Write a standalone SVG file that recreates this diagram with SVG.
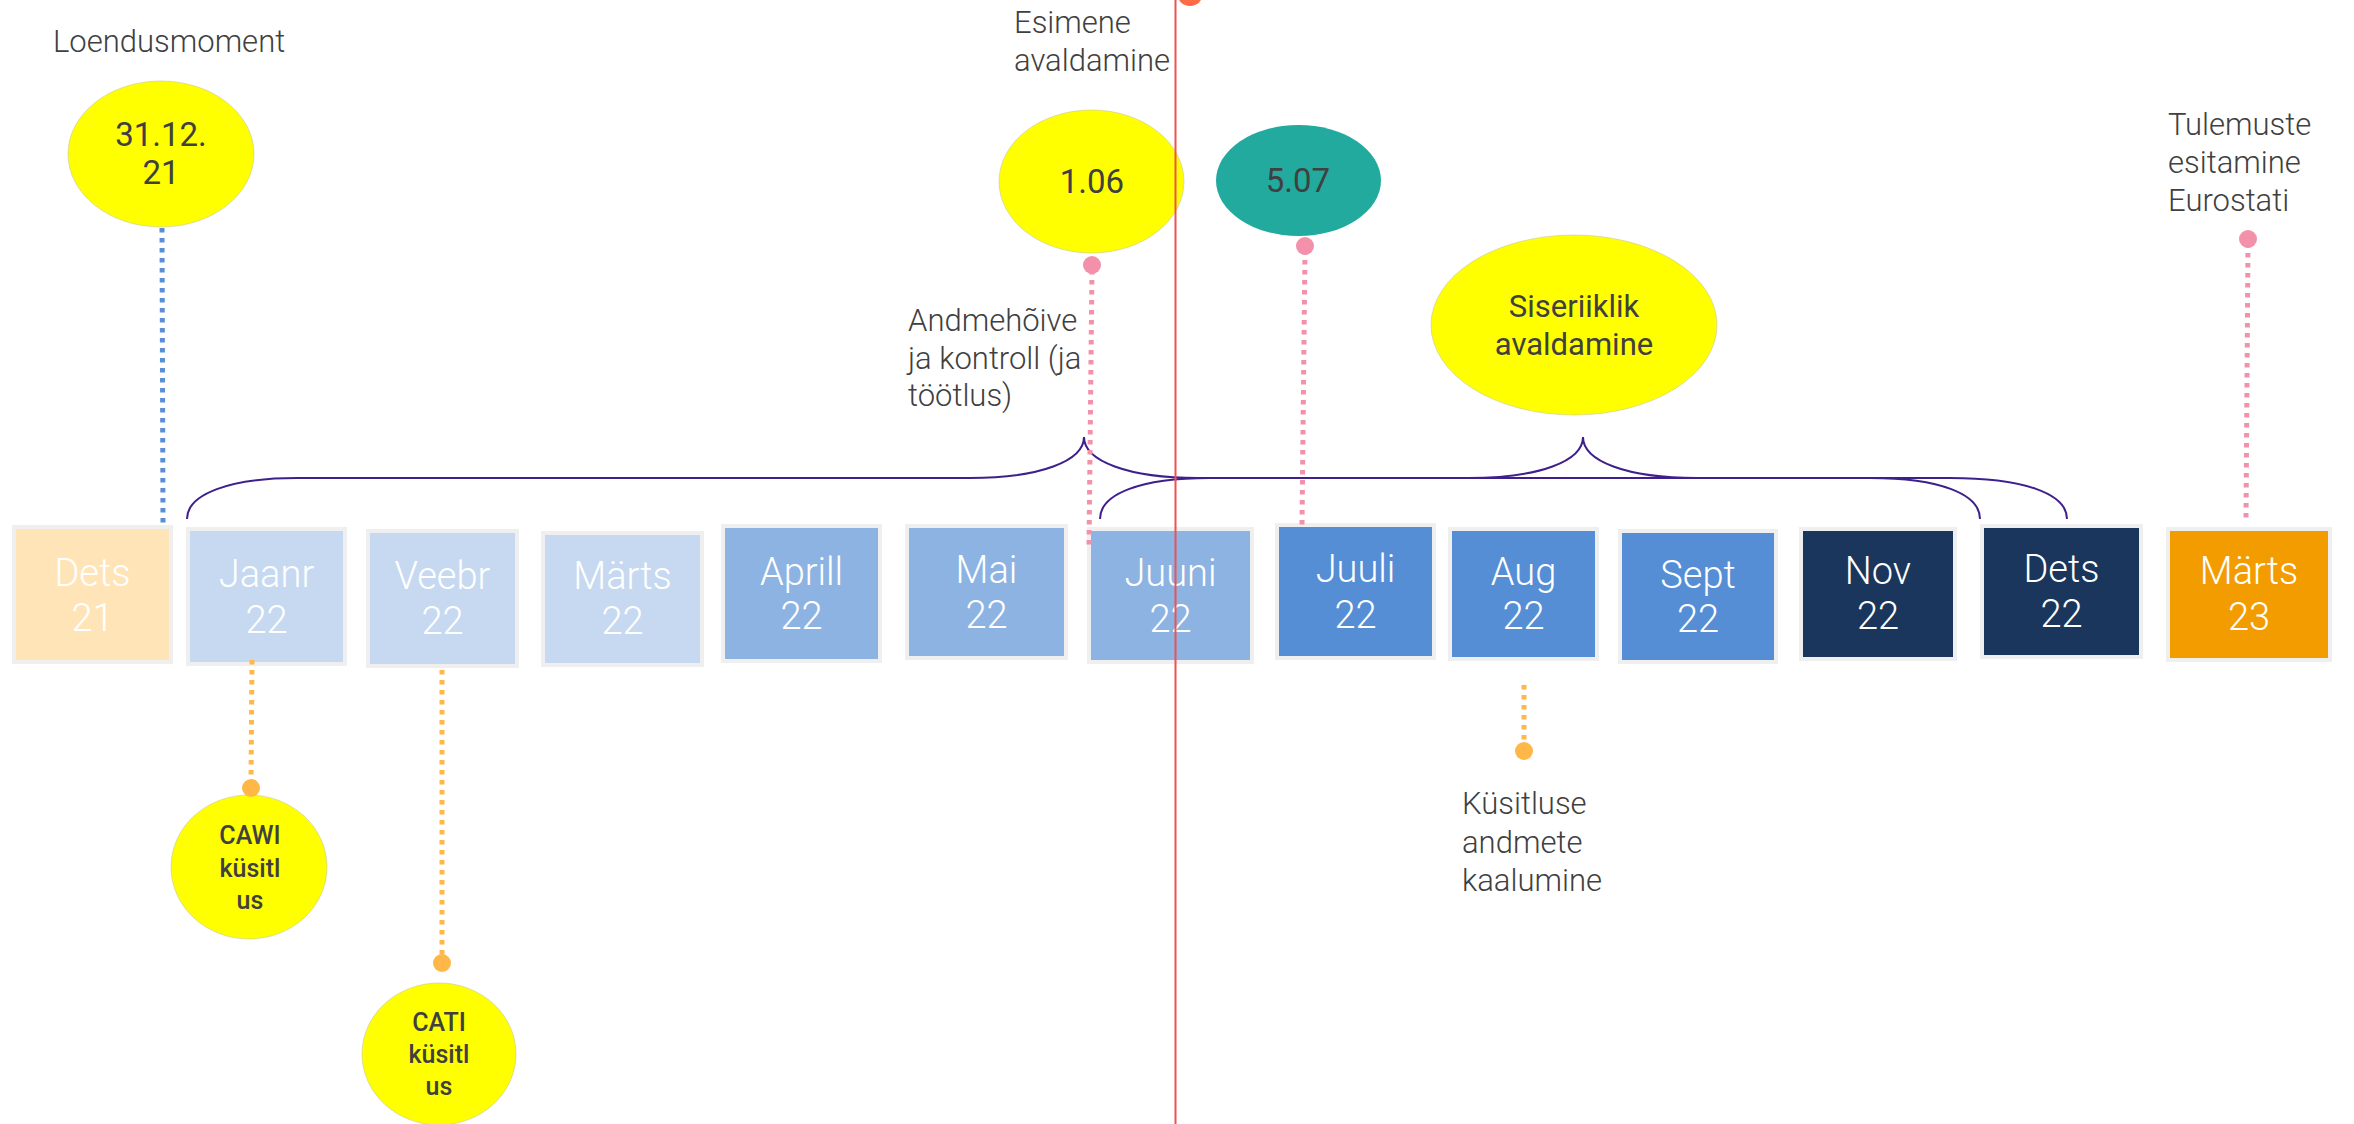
<svg xmlns="http://www.w3.org/2000/svg" width="2354" height="1124" viewBox="0 0 2354 1124">
<style>
.lbl{font-family:Roboto,"Liberation Sans",sans-serif;font-weight:300;font-size:31px;fill:#404040}
.etx{font-family:Roboto,"Liberation Sans",sans-serif;font-size:33px;fill:#404040;text-anchor:middle}
.stx{font-family:Roboto,"Liberation Sans",sans-serif;font-size:25px;font-weight:500;fill:#404040;text-anchor:middle}
.btx{font-family:Roboto,"Liberation Sans",sans-serif;font-weight:300;font-size:38px;fill:#ffffff;text-anchor:middle}
.box{stroke:#EFEFEF;stroke-width:4}
.yel{fill:#FFFF00;stroke:#c8c8a0;stroke-width:1;stroke-opacity:0.6}
.pink{stroke:#F391AA;stroke-width:5;stroke-dasharray:4.5 5.5;fill:none}
.org{stroke:#FFB847;stroke-width:5;stroke-dasharray:4.5 5.5;fill:none}
.blu{stroke:#5B8ED6;stroke-width:5;stroke-dasharray:4.5 5.5;fill:none}
.brace{stroke:#3F1F8C;stroke-width:2;fill:none}
</style>
<rect width="2354" height="1124" fill="#ffffff"/>

<g id="box-dets21"><rect class="box" x="14" y="527" width="157" height="135" fill="#FFE4B8"/><text class="btx" x="92.5" y="586">Dets</text><text class="btx" x="92.5" y="631">21</text></g>
<g id="box-jaanr22"><rect class="box" x="188" y="529" width="157" height="135" fill="#C6D9F0"/><text class="btx" x="266.5" y="587">Jaanr</text><text class="btx" x="266.5" y="633">22</text></g>
<g id="box-veebr22"><rect class="box" x="368" y="531" width="149" height="135" fill="#C6D9F0"/><text class="btx" x="442.5" y="589">Veebr</text><text class="btx" x="442.5" y="634">22</text></g>
<g id="box-marts22"><rect class="box" x="543" y="533" width="159" height="132" fill="#C6D9F0"/><text class="btx" x="622.5" y="589">Märts</text><text class="btx" x="622.5" y="634">22</text></g>
<g id="box-aprill22"><rect class="box" x="723" y="526" width="157" height="135" fill="#8DB3E2"/><text class="btx" x="801.5" y="585">Aprill</text><text class="btx" x="801.5" y="629">22</text></g>
<g id="box-mai22"><rect class="box" x="907" y="526" width="159" height="132" fill="#8DB3E2"/><text class="btx" x="986.5" y="583">Mai</text><text class="btx" x="986.5" y="628">22</text></g>
<g id="box-juuni22"><rect class="box" x="1089" y="529" width="163" height="133" fill="#8DB3E2"/><text class="btx" x="1170.5" y="586">Juuni</text><text class="btx" x="1170.5" y="632">22</text></g>
<g id="box-juuli22"><rect class="box" x="1277" y="525" width="157" height="133" fill="#558ED5"/><text class="btx" x="1355.5" y="582">Juuli</text><text class="btx" x="1355.5" y="628">22</text></g>
<g id="box-aug22"><rect class="box" x="1450" y="529" width="147" height="130" fill="#558ED5"/><text class="btx" x="1523.5" y="585">Aug</text><text class="btx" x="1523.5" y="629">22</text></g>
<g id="box-sept22"><rect class="box" x="1620" y="531" width="156" height="131" fill="#558ED5"/><text class="btx" x="1698" y="588">Sept</text><text class="btx" x="1698" y="632">22</text></g>
<g id="box-nov22"><rect class="box" x="1801" y="529" width="154" height="130" fill="#1B365D"/><text class="btx" x="1878" y="584">Nov</text><text class="btx" x="1878" y="629">22</text></g>
<g id="box-dets22"><rect class="box" x="1982" y="526" width="159" height="131" fill="#1B365D"/><text class="btx" x="2061.5" y="582">Dets</text><text class="btx" x="2061.5" y="627">22</text></g>
<g id="box-marts23"><rect class="box" x="2168" y="529" width="162" height="131" fill="#F39C00"/><text class="btx" x="2249" y="584">Märts</text><text class="btx" x="2249" y="630">23</text></g>

<g id="node-loendus"><text class="lbl" x="53" y="52">Loendusmoment</text><ellipse class="yel" cx="161" cy="154" rx="93" ry="73"/><text class="etx" x="161" y="146">31.12.</text><text class="etx" x="161" y="184">21</text></g>
<g id="node-106"><text class="lbl" x="1014" y="33">Esimene</text><text class="lbl" x="1014" y="71">avaldamine</text><ellipse class="yel" cx="1091.5" cy="181.5" rx="92.5" ry="71.5"/><text class="etx" x="1092" y="193">1.06</text></g>
<g id="node-507"><ellipse cx="1298.5" cy="180.5" rx="82.5" ry="55.5" fill="#22AA9F"/><text class="etx" x="1298" y="192">5.07</text></g>
<g id="node-siseriiklik"><ellipse class="yel" cx="1574" cy="325" rx="143" ry="90"/><text class="etx" x="1574" y="317" style="font-size:31px">Siseriiklik</text><text class="etx" x="1574" y="355" style="font-size:31px">avaldamine</text></g>
<g id="node-andmehoive"><text class="lbl" x="908" y="331">Andmehõive</text><text class="lbl" x="908" y="369">ja kontroll (ja</text><text class="lbl" x="908" y="406">töötlus)</text></g>
<g id="node-tulemuste"><text class="lbl" x="2168" y="135">Tulemuste</text><text class="lbl" x="2168" y="173">esitamine</text><text class="lbl" x="2168" y="211">Eurostati</text></g>
<g id="node-cawi"><ellipse class="yel" cx="249" cy="867" rx="78" ry="72"/><text class="stx" x="250" y="844">CAWI</text><text class="stx" x="250" y="877">küsitl</text><text class="stx" x="250" y="909">us</text></g>
<g id="node-cati"><ellipse class="yel" cx="439" cy="1054" rx="77" ry="71"/><text class="stx" x="439" y="1031">CATI</text><text class="stx" x="439" y="1063">küsitl</text><text class="stx" x="439" y="1095">us</text></g>
<g id="node-kaalumine"><text class="lbl" x="1462" y="814">Küsitluse</text><text class="lbl" x="1462" y="853">andmete</text><text class="lbl" x="1462" y="891">kaalumine</text></g>

<g id="connectors">
<path class="brace" d="M187,519 C187,494 230,478 297,478 L970,478 C1040,478 1084,461 1084,437 C1084,461 1128,478 1198,478 L1870,478 C1940,478 1980,494 1980,519"/>
<path class="brace" d="M1100,519 C1100,494 1140,478 1210,478 L1468,478 C1540,478 1583,461 1583,437 C1583,461 1626,478 1697,478 L1950,478 C2025,478 2067,494 2067,519"/>
<line class="blu" x1="162" y1="228" x2="163" y2="524"/>
<line class="pink" x1="1092" y1="270" x2="1089" y2="545"/><circle cx="1092" cy="265" r="9" fill="#F391AA"/>
<line class="pink" x1="1305" y1="250" x2="1302" y2="525"/><circle cx="1305" cy="246" r="9" fill="#F391AA"/>
<line class="pink" x1="2248" y1="243" x2="2246" y2="518"/><circle cx="2248" cy="239" r="9" fill="#F391AA"/>
<line class="org" x1="252" y1="660" x2="251" y2="784"/><circle cx="251" cy="788" r="9" fill="#FFB847"/>
<line class="org" x1="442" y1="670" x2="442" y2="958"/><circle cx="442" cy="963" r="9" fill="#FFB847"/>
<line class="org" x1="1524" y1="685" x2="1524" y2="746"/><circle cx="1524" cy="751" r="9" fill="#FFB847"/>
</g>

<g id="marker-today">
<circle cx="1190" cy="-7" r="13" fill="#FF6B47"/>
<line x1="1175.5" y1="0" x2="1175.5" y2="1124" stroke="#F0524F" stroke-width="2"/>
</g>
</svg>
